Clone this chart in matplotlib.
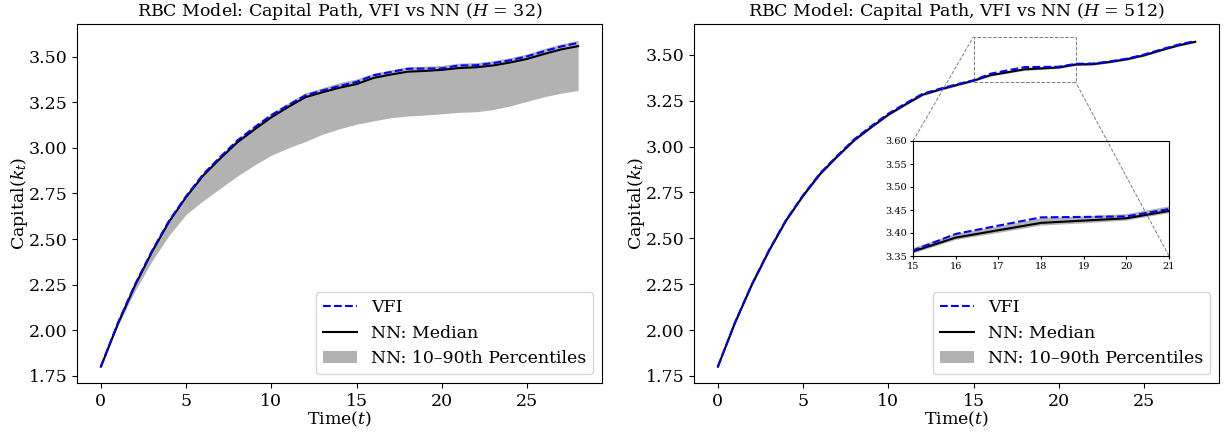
import numpy as np
import matplotlib
matplotlib.use("Agg")
import matplotlib.pyplot as plt
from mpl_toolkits.axes_grid1.inset_locator import mark_inset

plt.rcParams['font.family'] = ['DejaVu Serif']
plt.rcParams['mathtext.fontset'] = 'dejavuserif'

t = np.arange(0, 29)

vfi = [1.800, 2.040, 2.250, 2.435, 2.600, 2.735, 2.855, 2.950, 3.040, 3.112,
       3.180, 3.235, 3.288, 3.315, 3.340, 3.362, 3.398, 3.416, 3.434, 3.435,
       3.436, 3.452, 3.453, 3.465, 3.480, 3.502, 3.530, 3.556, 3.576]

# H = 32
med_32 = [1.800, 2.035, 2.245, 2.430, 2.595, 2.730, 2.848, 2.942, 3.030, 3.100,
          3.168, 3.225, 3.278, 3.305, 3.330, 3.350, 3.384, 3.402, 3.418, 3.422,
          3.428, 3.438, 3.442, 3.452, 3.468, 3.488, 3.515, 3.540, 3.558]
lo_32 = [1.800, 2.025, 2.215, 2.380, 2.520, 2.635, 2.710, 2.778, 2.845, 2.905,
         2.960, 3.000, 3.035, 3.075, 3.105, 3.130, 3.148, 3.165, 3.175, 3.180,
         3.187, 3.195, 3.198, 3.210, 3.230, 3.255, 3.280, 3.300, 3.315]
hi_32 = [1.800, 2.042, 2.255, 2.440, 2.605, 2.742, 2.862, 2.958, 3.048, 3.122,
         3.190, 3.248, 3.302, 3.330, 3.358, 3.378, 3.410, 3.428, 3.445, 3.448,
         3.452, 3.465, 3.468, 3.478, 3.495, 3.515, 3.545, 3.570, 3.590]

# H = 512
med_512 = [1.800, 2.038, 2.248, 2.432, 2.597, 2.732, 2.851, 2.946, 3.035, 3.106,
           3.174, 3.230, 3.283, 3.311, 3.336, 3.360, 3.390, 3.406, 3.422, 3.427,
           3.432, 3.448, 3.450, 3.462, 3.477, 3.498, 3.526, 3.552, 3.572]
lo_512 = [1.800, 2.034, 2.243, 2.426, 2.591, 2.726, 2.845, 2.940, 3.029, 3.100,
          3.168, 3.224, 3.277, 3.305, 3.330, 3.355, 3.385, 3.400, 3.416, 3.421,
          3.427, 3.443, 3.445, 3.457, 3.472, 3.493, 3.521, 3.547, 3.567]
hi_512 = [1.800, 2.042, 2.253, 2.438, 2.603, 2.739, 2.858, 2.953, 3.042, 3.113,
          3.181, 3.238, 3.291, 3.319, 3.344, 3.367, 3.398, 3.414, 3.432, 3.436,
          3.441, 3.458, 3.460, 3.471, 3.486, 3.507, 3.535, 3.561, 3.580]

titles = [r"RBC Model: Capital Path, VFI vs NN ($H$ = 32)",
          r"RBC Model: Capital Path, VFI vs NN ($H$ = 512)"]

FS = 12.5
fig = plt.figure(figsize=(12.25, 4.32), dpi=100)
ax1 = fig.add_axes([77/1225, 1-383/432, (602-77)/1225, (383-24)/432])
ax2 = fig.add_axes([694/1225, 1-383/432, (1219-694)/1225, (383-24)/432])


def draw(ax, med, lo, hi, lw=1.5):
    ax.plot(t, vfi, 'b--', lw=lw, label='VFI', zorder=3)
    ax.plot(t, med, 'k-', lw=lw, label='NN: Median', zorder=2)
    ax.fill_between(t, lo, hi, color='gray', alpha=0.6, lw=0,
                    label='NN: 10–90th Percentiles', zorder=1)


for ax, med, lo, hi, ttl in [(ax1, med_32, lo_32, hi_32, titles[0]),
                             (ax2, med_512, lo_512, hi_512, titles[1])]:
    draw(ax, med, lo, hi)
    ax.set_title(ttl, fontsize=FS)
    ax.set_xlabel(r"Time($t$)", fontsize=FS, labelpad=0)
    ax.set_ylabel(r"Capital($k_t$)", fontsize=FS, labelpad=-1)
    ax.set_yticks([1.75, 2.00, 2.25, 2.50, 2.75, 3.00, 3.25, 3.50])
    ax.set_xticks([0, 5, 10, 15, 20, 25])
    ax.tick_params(labelsize=FS)
    ax.legend(loc='lower right', fontsize=FS)
    ax.margins(x=0.05, y=0.05)

axins = fig.add_axes([913/1225, 1-256/432, (1169-913)/1225, (256-141)/432])
draw(axins, med_512, lo_512, hi_512)
axins.set_xlim(15, 21)
axins.set_ylim(3.35, 3.60)
axins.set_xticks([15, 16, 17, 18, 19, 20, 21])
axins.set_yticks([3.35, 3.40, 3.45, 3.50, 3.55, 3.60])
axins.tick_params(labelsize=7, length=2.5, pad=2)
axins.patch.set_alpha(0)
mark_inset(ax2, axins, loc1=2, loc2=4, fc="none", ec="0.5", ls="--", lw=0.7)

fig.savefig("out.png", dpi=100)
